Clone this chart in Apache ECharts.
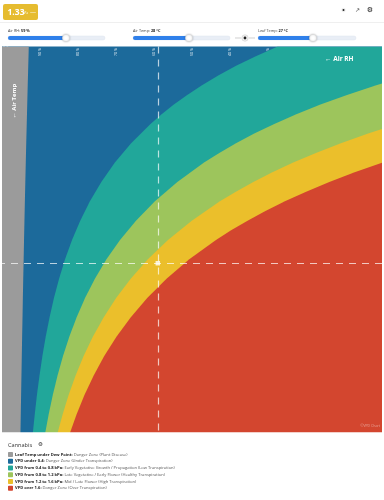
<!DOCTYPE html>
<html><head><meta charset="utf-8">
<script src="https://cdn.jsdelivr.net/npm/echarts@6/dist/echarts.min.js"></script>
<style>
html,body{margin:0;padding:0;width:384px;height:500px;overflow:hidden;background:#fff;}
#c{position:absolute;left:0;top:0;width:384px;height:500px;}
</style></head><body><div id="c"></div>
<script>
// Current reading
const currentRH = 59;
const currentAirTemp = 28;
const currentLeafTemp = 27;
const currentVPD = 1.33;

// Zone edges: [air RH %, air temp °C]
const dewPointEdge = [[92.95,0],[93.09,2.5],[93.23,5],[93.36,7.5],[93.49,10],[93.62,12.5],[93.74,15],[93.86,17.5],[93.98,20],[94.09,22.5],[94.20,25],[94.30,27.5],[94.41,30],[94.51,32.5],[94.60,35],[94.70,37.5],[94.79,40],[94.88,42.5],[94.97,45],[95.06,47.5],[95.14,50],[100,50]];
const vpd04Edge = [[0,0],[27.46,0],[33.20,1.25],[38.40,2.5],[43.10,3.75],[47.37,5],[51.26,6.25],[54.78,7.5],[58.00,8.75],[60.92,10],[66.02,12.5],[70.29,15],[73.86,17.5],[76.87,20],[79.41,22.5],[81.57,25],[83.41,27.5],[84.98,30],[86.33,32.5],[87.49,35],[88.50,37.5],[89.37,40],[90.13,42.5],[90.80,45],[91.38,47.5],[91.90,50]];
const vpd08Edge = [[0,4.78],[1.52,5],[9.21,6.25],[16.20,7.5],[22.56,8.75],[28.35,10],[33.62,11.25],[38.43,12.5],[42.82,13.75],[46.83,15],[53.86,17.5],[59.76,20],[64.74,22.5],[68.94,25],[72.51,27.5],[75.55,30],[78.15,32.5],[80.38,35],[82.29,37.5],[83.94,40],[85.38,42.5],[86.62,45],[87.71,47.5],[88.66,50]];
const vpd12Edge = [[0,10.66],[3.65,11.25],[10.83,12.5],[17.39,13.75],[23.37,15],[28.85,16.25],[33.86,17.5],[38.45,18.75],[42.66,20],[50.06,22.5],[56.32,25],[61.62,27.5],[66.12,30],[69.97,32.5],[73.26,35],[76.09,37.5],[78.52,40],[80.63,42.5],[82.45,45],[84.03,47.5],[85.41,50]];
const vpd16Edge = [[0,15.02],[7.20,16.25],[13.86,17.5],[19.96,18.75],[25.55,20],[30.68,21.25],[35.38,22.5],[39.71,23.75],[43.69,25],[50.72,27.5],[56.70,30],[61.79,32.5],[66.15,35],[69.88,37.5],[73.10,40],[75.87,42.5],[78.27,45],[80.36,47.5],[82.17,50]];

const legendTitle = 'Cannabis';
const legendBold = ['Leaf Temp under Dew Point:','VPD under 0.4:','VPD from 0.4 to 0.8 kPa:','VPD from 0.8 to 1.2 kPa:','VPD from 1.2 to 1.6 kPa:','VPD over 1.6:'];
const legendDesc = ['Danger Zone (Plant Disease)','Danger Zone (Under Transpiration)','Early Vegetative Growth / Propagation (Low Transpiration)','Late Vegetative / Early Flower (Healthy Transpiration)','Mid / Late Flower (High Transpiration)','Danger Zone (Over Transpiration)'];
const zoneColors = ['#9b9b9b','#1c6a9b','#21a79a','#9dc55c','#ebbf2b','#d3462f'];

const FONT = '"Open Sans", sans-serif';
const chart = echarts.init(document.getElementById('c'), null, {renderer:'canvas'});

function zone(name, data, color, origin){
  return {type:'line', name, data, symbol:'none', silent:true, animation:false, clip:true,
    lineStyle:{width:0}, areaStyle:{color, opacity:1, origin}};
}

const g = [];
// header
g.push({type:'rect', z:100, shape:{x:3,y:4,width:35,height:16,r:2}, style:{fill:'#e6bc2f'}});
g.push({type:'text', z:101, x:7.5, y:12.5, style:{text:currentVPD.toFixed(2), fontSize:8.5, fontWeight:'bold', fontFamily:FONT, fill:'#fff', verticalAlign:'middle'}});
g.push({type:'text', z:101, x:23, y:13.5, style:{text:'kPa', fontSize:3, fontFamily:FONT, fill:'#fff', verticalAlign:'middle'}});
g.push({type:'text', z:101, x:30, y:12, style:{text:'—', fontSize:6, fontFamily:FONT, fill:'#fff', verticalAlign:'middle'}});
g.push({type:'line', z:100, shape:{x1:0,y1:22.5,x2:384,y2:22.5}, style:{stroke:'#efefef', lineWidth:1}});
// header icons
g.push({type:'circle', z:100, shape:{cx:343.5,cy:10,r:2.2}, style:{fill:'#eee'}});
g.push({type:'circle', z:101, shape:{cx:343.5,cy:10,r:1}, style:{fill:'#222'}});
g.push({type:'text', z:100, x:357, y:10, style:{text:'↗', fontSize:6, fontFamily:FONT, fill:'#333', align:'center', verticalAlign:'middle'}});
g.push({type:'text', z:100, x:370, y:10, style:{text:'⚙', fontSize:7, fontFamily:'DejaVu Sans', fill:'#111', align:'center', verticalAlign:'middle'}});

// sliders
function slider(x0, x1, knob, labelHead, labelVal){
  g.push({type:'text', z:100, x:x0, y:31, style:{text:'{n|'+labelHead+'} {b|'+labelVal+'}', fontFamily:FONT, fontSize:3.8, fill:'#333', verticalAlign:'middle',
    rich:{n:{fontSize:3.8, fontFamily:FONT, fill:'#444'}, b:{fontSize:3.8, fontFamily:FONT, fontWeight:'bold', fill:'#222'}}}});
  g.push({type:'rect', z:100, shape:{x:x0,y:36,width:x1-x0,height:4,r:2}, style:{fill:'#e9eef6', stroke:'#dfe5ee', lineWidth:0.5}});
  g.push({type:'rect', z:101, shape:{x:x0,y:36,width:knob-x0,height:4,r:2}, style:{fill:'#2f80ea'}});
  g.push({type:'circle', z:102, shape:{cx:knob,cy:38,r:3.6}, style:{fill:'#fff', stroke:'#d6d6d6', lineWidth:0.6, shadowBlur:2, shadowColor:'rgba(0,0,0,0.25)'}});
}
slider(8, 105, 66, 'Air RH:', currentRH + ' %');
slider(133, 230, 189, 'Air Temp:', currentAirTemp + ' °C');
slider(258, 356, 313, 'Leaf Temp:', currentLeafTemp + ' °C');
// link icon
g.push({type:'line', z:100, shape:{x1:235,y1:38,x2:241,y2:38}, style:{stroke:'#bbb', lineWidth:0.7}});
g.push({type:'line', z:100, shape:{x1:249,y1:38,x2:255,y2:38}, style:{stroke:'#bbb', lineWidth:0.7}});
g.push({type:'circle', z:100, shape:{cx:245,cy:38,r:3.2}, style:{fill:'#f3f3f3', stroke:'#ccc', lineWidth:0.6}});
g.push({type:'circle', z:101, shape:{cx:245,cy:38,r:1.4}, style:{fill:'#222'}});

// chart overlays
g.push({type:'text', z:100, x:325, y:59.5, style:{text:'← Air RH', fontSize:6.5, fontWeight:'bold', fontFamily:FONT, fill:'#fff', verticalAlign:'middle'}});
g.push({type:'text', z:100, x:14, y:101, rotation:Math.PI/2, style:{text:'← Air Temp', fontSize:6, fontWeight:'bold', fontFamily:FONT, fill:'#fff', align:'center', verticalAlign:'middle'}});
g.push({type:'text', z:100, x:380, y:426, style:{text:'©VPD Chart', fontSize:3.5, fontFamily:FONT, fill:'rgba(255,255,255,0.45)', align:'right', verticalAlign:'middle'}});
// page area below chart
g.push({type:'rect', z:100, shape:{x:0,y:432.3,width:384,height:68}, style:{fill:'#fff'}});
g.push({type:'text', z:101, x:8, y:445, style:{text:legendTitle, fontSize:5.6, fontFamily:FONT, fill:'#333', verticalAlign:'middle'}});
g.push({type:'text', z:101, x:40.5, y:445, style:{text:'⚙', fontSize:5.5, fontFamily:'DejaVu Sans', fill:'#222', align:'center', verticalAlign:'middle'}});
legendBold.forEach((b, i) => {
  const y = 454.5 + i * 6.75;
  g.push({type:'rect', z:101, shape:{x:8,y:y-2.6,width:5,height:5.2,r:0.8}, style:{fill:zoneColors[i]}});
  g.push({type:'text', z:101, x:15, y:y, style:{text:'{b|'+b+'} {n|'+legendDesc[i]+'}', fontSize:4.1, fontFamily:FONT, fill:'#444', verticalAlign:'middle',
    rich:{b:{fontSize:4.1, fontFamily:FONT, fontWeight:'bold', fill:'#222'}, n:{fontSize:4.1, fontFamily:FONT, fill:'#555'}}}});
});

chart.setOption({
  animation:false,
  grid:{left:0, right:-3, top:46.5, height:387, show:true, backgroundColor:zoneColors[1], borderWidth:0, containLabel:false},
  xAxis:{type:'value', min:0, max:100, interval:10, inverse:true, position:'top',
    axisLine:{show:false}, axisTick:{show:false}, splitLine:{show:false},
    axisLabel:{inside:true, rotate:90, margin:1.5, fontSize:3.6, fontFamily:FONT, color:'rgba(255,255,255,0.9)', formatter:'{value} %', showMinLabel:true, showMaxLabel:true}},
  yAxis:{type:'value', min:0, max:50, interval:5, inverse:true,
    axisLine:{show:false}, axisTick:{show:false}, splitLine:{show:false},
    axisLabel:{inside:true, margin:1, fontSize:3.6, fontFamily:FONT, color:'rgba(255,255,255,0.9)', formatter:'{value} °C'}},
  graphic:{elements:g},
  series:[
    zone('0.4–0.8', vpd04Edge, zoneColors[2], 'end'),
    zone('0.8–1.2', vpd08Edge, zoneColors[3], 'end'),
    zone('1.2–1.6', vpd12Edge, zoneColors[4], 'end'),
    zone('>1.6', vpd16Edge, zoneColors[5], 'end'),
    zone('dew point', dewPointEdge, zoneColors[0], 'start'),
    {type:'scatter', data:[[currentRH, currentAirTemp]], symbol:'rect', symbolSize:4.5, silent:true, z:10,
      itemStyle:{color:'#fff'},
      markLine:{symbol:'none', silent:true, label:{show:false}, animation:false,
        lineStyle:{color:'rgba(255,255,255,0.7)', type:[7,6], width:1.2},
        data:[{xAxis:currentRH},{yAxis:currentAirTemp}]}}
  ]
});
</script></body></html>
